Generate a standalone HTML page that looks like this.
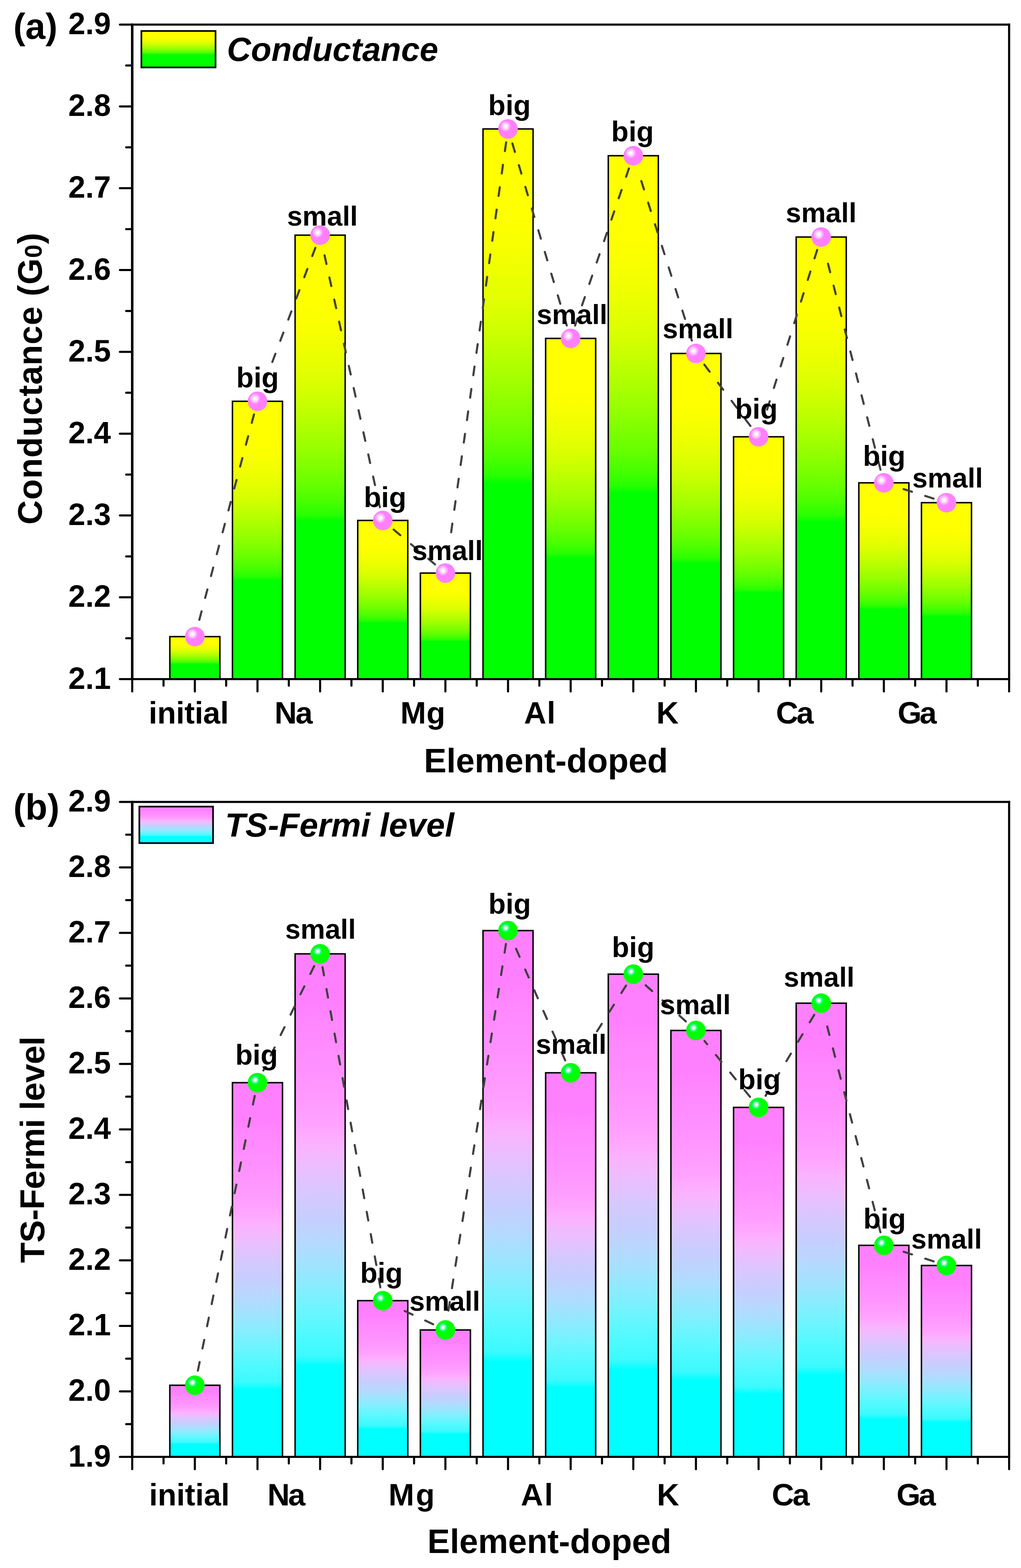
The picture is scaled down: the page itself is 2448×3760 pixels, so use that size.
<!DOCTYPE html>
<html><head><meta charset="utf-8"><title>Conductance and TS-Fermi level</title>
<style>html,body{margin:0;padding:0;background:#fff;}svg{display:block;}
text{font-family:'Liberation Sans', Arial, sans-serif;font-weight:bold;fill:#000;}</style></head>
<body>
<svg width="2448" height="3760" viewBox="0 0 2448 3760">
<rect width="2448" height="3760" fill="#fff"/>
<defs>
<linearGradient id="gA" x1="0" y1="0" x2="0" y2="1"><stop offset="0" stop-color="#ffff00"/><stop offset="0.15" stop-color="#ffff00"/><stop offset="0.19" stop-color="#fcff00"/><stop offset="0.26" stop-color="#eeff00"/><stop offset="0.33" stop-color="#dcff00"/><stop offset="0.38" stop-color="#c8ff00"/><stop offset="0.43" stop-color="#b0ff00"/><stop offset="0.48" stop-color="#98ff00"/><stop offset="0.52" stop-color="#80ff00"/><stop offset="0.56" stop-color="#68ff00"/><stop offset="0.6" stop-color="#48ff00"/><stop offset="0.63" stop-color="#28ff00"/><stop offset="0.645" stop-color="#00ff00"/><stop offset="1" stop-color="#00ff00"/></linearGradient>
<linearGradient id="gAL" x1="0" y1="0" x2="0" y2="1"><stop offset="0" stop-color="#ffff00"/><stop offset="0.15" stop-color="#ffff00"/><stop offset="0.19" stop-color="#fcff00"/><stop offset="0.26" stop-color="#eeff00"/><stop offset="0.33" stop-color="#dcff00"/><stop offset="0.38" stop-color="#c8ff00"/><stop offset="0.43" stop-color="#b0ff00"/><stop offset="0.48" stop-color="#98ff00"/><stop offset="0.52" stop-color="#80ff00"/><stop offset="0.56" stop-color="#68ff00"/><stop offset="0.6" stop-color="#48ff00"/><stop offset="0.63" stop-color="#28ff00"/><stop offset="0.645" stop-color="#00ff00"/><stop offset="1" stop-color="#00ff00"/></linearGradient>
<linearGradient id="gB" x1="0" y1="0" x2="0" y2="1"><stop offset="0" stop-color="#ff80ff"/><stop offset="0.1" stop-color="#ff80ff"/><stop offset="0.14" stop-color="#ff87ff"/><stop offset="0.23" stop-color="#ff91ff"/><stop offset="0.3" stop-color="#ff9bff"/><stop offset="0.345" stop-color="#ffa5ff"/><stop offset="0.385" stop-color="#fab4ff"/><stop offset="0.425" stop-color="#ebbeff"/><stop offset="0.475" stop-color="#d7c8ff"/><stop offset="0.52" stop-color="#c8cdff"/><stop offset="0.565" stop-color="#b9d7ff"/><stop offset="0.61" stop-color="#a5e1ff"/><stop offset="0.655" stop-color="#8cebff"/><stop offset="0.705" stop-color="#6ef5ff"/><stop offset="0.755" stop-color="#50faff"/><stop offset="0.8" stop-color="#3cfaff"/><stop offset="0.82" stop-color="#00ffff"/><stop offset="1" stop-color="#00ffff"/></linearGradient>
<linearGradient id="gBL" x1="0" y1="0" x2="0" y2="1"><stop offset="0" stop-color="#ff80ff"/><stop offset="0.1" stop-color="#ff80ff"/><stop offset="0.14" stop-color="#ff87ff"/><stop offset="0.23" stop-color="#ff91ff"/><stop offset="0.3" stop-color="#ff9bff"/><stop offset="0.345" stop-color="#ffa5ff"/><stop offset="0.385" stop-color="#fab4ff"/><stop offset="0.425" stop-color="#ebbeff"/><stop offset="0.475" stop-color="#d7c8ff"/><stop offset="0.52" stop-color="#c8cdff"/><stop offset="0.565" stop-color="#b9d7ff"/><stop offset="0.61" stop-color="#a5e1ff"/><stop offset="0.655" stop-color="#8cebff"/><stop offset="0.705" stop-color="#6ef5ff"/><stop offset="0.755" stop-color="#50faff"/><stop offset="0.8" stop-color="#3cfaff"/><stop offset="0.82" stop-color="#00ffff"/><stop offset="1" stop-color="#00ffff"/></linearGradient>
<g id="mP"><circle r="23.5" fill="#ff80ff"/><circle cx="-6" cy="-6.3" r="11.5" fill="#ffb0ff"/><circle cx="-6" cy="-6.3" r="7.5" fill="#ffe0ff"/><circle cx="-6" cy="-6.3" r="3.5" fill="#fff"/></g>
<g id="mG"><circle r="23.5" fill="#00ff00"/><circle cx="-6" cy="-6.5" r="11.3" fill="#00ff60"/><circle cx="-6" cy="-6.5" r="7.4" fill="#90ffb0"/><circle cx="-6" cy="-6.5" r="3.5" fill="#fff"/></g>
</defs>
<rect x="407.18" y="1526.60" width="120" height="101.90" fill="url(#gA)" stroke="#000" stroke-width="3.5"/>
<rect x="557.36" y="962.30" width="120" height="666.20" fill="url(#gA)" stroke="#000" stroke-width="3.5"/>
<rect x="707.54" y="563.90" width="120" height="1064.60" fill="url(#gA)" stroke="#000" stroke-width="3.5"/>
<rect x="857.72" y="1248.00" width="120" height="380.50" fill="url(#gA)" stroke="#000" stroke-width="3.5"/>
<rect x="1007.90" y="1374.20" width="120" height="254.30" fill="url(#gA)" stroke="#000" stroke-width="3.5"/>
<rect x="1158.08" y="309.20" width="120" height="1319.30" fill="url(#gA)" stroke="#000" stroke-width="3.5"/>
<rect x="1308.26" y="811.50" width="120" height="817.00" fill="url(#gA)" stroke="#000" stroke-width="3.5"/>
<rect x="1458.44" y="373.40" width="120" height="1255.10" fill="url(#gA)" stroke="#000" stroke-width="3.5"/>
<rect x="1608.62" y="847.60" width="120" height="780.90" fill="url(#gA)" stroke="#000" stroke-width="3.5"/>
<rect x="1758.80" y="1047.40" width="120" height="581.10" fill="url(#gA)" stroke="#000" stroke-width="3.5"/>
<rect x="1908.98" y="568.40" width="120" height="1060.10" fill="url(#gA)" stroke="#000" stroke-width="3.5"/>
<rect x="2059.16" y="1157.80" width="120" height="470.70" fill="url(#gA)" stroke="#000" stroke-width="3.5"/>
<rect x="2209.34" y="1205.40" width="120" height="423.10" fill="url(#gA)" stroke="#000" stroke-width="3.5"/>
<line x1="609.00" y1="993.71" x2="475.54" y2="1495.19" stroke="#404040" stroke-width="5" stroke-dasharray="21 33.3" stroke-linecap="round"/>
<line x1="756.08" y1="594.31" x2="628.82" y2="931.89" stroke="#404040" stroke-width="5" stroke-dasharray="21 33.3" stroke-linecap="round"/>
<line x1="910.75" y1="1216.26" x2="774.51" y2="595.64" stroke="#404040" stroke-width="5" stroke-dasharray="21 33.3" stroke-linecap="round"/>
<line x1="1043.02" y1="1353.29" x2="942.60" y2="1268.91" stroke="#404040" stroke-width="5" stroke-dasharray="21 33.3" stroke-linecap="round"/>
<line x1="1213.54" y1="341.38" x2="1072.44" y2="1342.02" stroke="#404040" stroke-width="5" stroke-dasharray="21 33.3" stroke-linecap="round"/>
<line x1="1358.95" y1="780.36" x2="1227.39" y2="340.34" stroke="#404040" stroke-width="5" stroke-dasharray="21 33.3" stroke-linecap="round"/>
<line x1="1507.90" y1="404.14" x2="1378.80" y2="780.76" stroke="#404040" stroke-width="5" stroke-dasharray="21 33.3" stroke-linecap="round"/>
<line x1="1658.81" y1="816.62" x2="1528.25" y2="404.38" stroke="#404040" stroke-width="5" stroke-dasharray="21 33.3" stroke-linecap="round"/>
<line x1="1799.27" y1="1021.42" x2="1688.15" y2="873.58" stroke="#404040" stroke-width="5" stroke-dasharray="21 33.3" stroke-linecap="round"/>
<line x1="1959.26" y1="599.41" x2="1829.90" y2="1012.01" stroke="#404040" stroke-width="5" stroke-dasharray="21 33.3" stroke-linecap="round"/>
<line x1="2111.14" y1="1126.31" x2="1977.56" y2="602.06" stroke="#404040" stroke-width="5" stroke-dasharray="21 33.3" stroke-linecap="round"/>
<line x1="2238.36" y1="1195.58" x2="2150.14" y2="1167.62" stroke="#404040" stroke-width="5" stroke-dasharray="21 33.3" stroke-linecap="round"/>
<use href="#mP" x="467.18" y="1526.60"/>
<use href="#mP" x="617.36" y="962.30"/>
<use href="#mP" x="767.54" y="563.90"/>
<use href="#mP" x="917.72" y="1248.00"/>
<use href="#mP" x="1067.90" y="1374.20"/>
<use href="#mP" x="1218.08" y="309.20"/>
<use href="#mP" x="1368.26" y="811.50"/>
<use href="#mP" x="1518.44" y="373.40"/>
<use href="#mP" x="1668.62" y="847.60"/>
<use href="#mP" x="1818.80" y="1047.40"/>
<use href="#mP" x="1968.98" y="568.40"/>
<use href="#mP" x="2119.16" y="1157.80"/>
<use href="#mP" x="2269.34" y="1205.40"/>
<text x="617.6" y="929.0" font-size="68" text-anchor="middle">big</text>
<text x="773.0" y="540.6" font-size="66.3" text-anchor="middle">small</text>
<text x="923.3" y="1216.3" font-size="68" text-anchor="middle">big</text>
<text x="1072.7" y="1343.0" font-size="66.3" text-anchor="middle">small</text>
<text x="1221.6" y="275.8" font-size="68" text-anchor="middle">big</text>
<text x="1371.5" y="776.8" font-size="66.3" text-anchor="middle">small</text>
<text x="1516.6" y="339.4" font-size="68" text-anchor="middle">big</text>
<text x="1673.5" y="811.3" font-size="66.3" text-anchor="middle">small</text>
<text x="1813.5" y="1004.2" font-size="68" text-anchor="middle">big</text>
<text x="1968.8" y="533.1" font-size="66.3" text-anchor="middle">small</text>
<text x="2120.0" y="1117.2" font-size="68" text-anchor="middle">big</text>
<text x="2272.0" y="1168.7" font-size="66.3" text-anchor="middle">small</text>
<line x1="317" y1="59.0" x2="2422.12" y2="59.0" stroke="#000" stroke-width="5"/>
<line x1="314" y1="1628.5" x2="2422.12" y2="1628.5" stroke="#000" stroke-width="5.2"/>
<line x1="317" y1="56.5" x2="317" y2="1628.5" stroke="#000" stroke-width="6"/>
<line x1="2419.52" y1="56.5" x2="2419.52" y2="1628.5" stroke="#000" stroke-width="5.2"/>
<line x1="317" y1="1628.50" x2="287.5" y2="1628.50" stroke="#000" stroke-width="5.0" stroke-linecap="round"/>
<text x="266" y="1651.50" font-size="73.5" text-anchor="end">2.1</text>
<line x1="317" y1="1530.41" x2="302.5" y2="1530.41" stroke="#000" stroke-width="5.0" stroke-linecap="round"/>
<line x1="317" y1="1432.31" x2="287.5" y2="1432.31" stroke="#000" stroke-width="5.0" stroke-linecap="round"/>
<text x="266" y="1455.31" font-size="73.5" text-anchor="end">2.2</text>
<line x1="317" y1="1334.22" x2="302.5" y2="1334.22" stroke="#000" stroke-width="5.0" stroke-linecap="round"/>
<line x1="317" y1="1236.12" x2="287.5" y2="1236.12" stroke="#000" stroke-width="5.0" stroke-linecap="round"/>
<text x="266" y="1259.12" font-size="73.5" text-anchor="end">2.3</text>
<line x1="317" y1="1138.03" x2="302.5" y2="1138.03" stroke="#000" stroke-width="5.0" stroke-linecap="round"/>
<line x1="317" y1="1039.94" x2="287.5" y2="1039.94" stroke="#000" stroke-width="5.0" stroke-linecap="round"/>
<text x="266" y="1062.94" font-size="73.5" text-anchor="end">2.4</text>
<line x1="317" y1="941.84" x2="302.5" y2="941.84" stroke="#000" stroke-width="5.0" stroke-linecap="round"/>
<line x1="317" y1="843.75" x2="287.5" y2="843.75" stroke="#000" stroke-width="5.0" stroke-linecap="round"/>
<text x="266" y="866.75" font-size="73.5" text-anchor="end">2.5</text>
<line x1="317" y1="745.66" x2="302.5" y2="745.66" stroke="#000" stroke-width="5.0" stroke-linecap="round"/>
<line x1="317" y1="647.56" x2="287.5" y2="647.56" stroke="#000" stroke-width="5.0" stroke-linecap="round"/>
<text x="266" y="670.56" font-size="73.5" text-anchor="end">2.6</text>
<line x1="317" y1="549.47" x2="302.5" y2="549.47" stroke="#000" stroke-width="5.0" stroke-linecap="round"/>
<line x1="317" y1="451.37" x2="287.5" y2="451.37" stroke="#000" stroke-width="5.0" stroke-linecap="round"/>
<text x="266" y="474.37" font-size="73.5" text-anchor="end">2.7</text>
<line x1="317" y1="353.28" x2="302.5" y2="353.28" stroke="#000" stroke-width="5.0" stroke-linecap="round"/>
<line x1="317" y1="255.19" x2="287.5" y2="255.19" stroke="#000" stroke-width="5.0" stroke-linecap="round"/>
<text x="266" y="278.19" font-size="73.5" text-anchor="end">2.8</text>
<line x1="317" y1="157.09" x2="302.5" y2="157.09" stroke="#000" stroke-width="5.0" stroke-linecap="round"/>
<line x1="317" y1="59.00" x2="287.5" y2="59.00" stroke="#000" stroke-width="5.0" stroke-linecap="round"/>
<text x="266" y="82.00" font-size="73.5" text-anchor="end">2.9</text>
<line x1="317.00" y1="1628.5" x2="317.00" y2="1658.0" stroke="#000" stroke-width="5.0" stroke-linecap="round"/>
<line x1="392.09" y1="1628.5" x2="392.09" y2="1644.3" stroke="#000" stroke-width="5.0" stroke-linecap="round"/>
<line x1="467.18" y1="1628.5" x2="467.18" y2="1658.0" stroke="#000" stroke-width="5.0" stroke-linecap="round"/>
<line x1="542.27" y1="1628.5" x2="542.27" y2="1644.3" stroke="#000" stroke-width="5.0" stroke-linecap="round"/>
<line x1="617.36" y1="1628.5" x2="617.36" y2="1658.0" stroke="#000" stroke-width="5.0" stroke-linecap="round"/>
<line x1="692.45" y1="1628.5" x2="692.45" y2="1644.3" stroke="#000" stroke-width="5.0" stroke-linecap="round"/>
<line x1="767.54" y1="1628.5" x2="767.54" y2="1658.0" stroke="#000" stroke-width="5.0" stroke-linecap="round"/>
<line x1="842.63" y1="1628.5" x2="842.63" y2="1644.3" stroke="#000" stroke-width="5.0" stroke-linecap="round"/>
<line x1="917.72" y1="1628.5" x2="917.72" y2="1658.0" stroke="#000" stroke-width="5.0" stroke-linecap="round"/>
<line x1="992.81" y1="1628.5" x2="992.81" y2="1644.3" stroke="#000" stroke-width="5.0" stroke-linecap="round"/>
<line x1="1067.90" y1="1628.5" x2="1067.90" y2="1658.0" stroke="#000" stroke-width="5.0" stroke-linecap="round"/>
<line x1="1142.99" y1="1628.5" x2="1142.99" y2="1644.3" stroke="#000" stroke-width="5.0" stroke-linecap="round"/>
<line x1="1218.08" y1="1628.5" x2="1218.08" y2="1658.0" stroke="#000" stroke-width="5.0" stroke-linecap="round"/>
<line x1="1293.17" y1="1628.5" x2="1293.17" y2="1644.3" stroke="#000" stroke-width="5.0" stroke-linecap="round"/>
<line x1="1368.26" y1="1628.5" x2="1368.26" y2="1658.0" stroke="#000" stroke-width="5.0" stroke-linecap="round"/>
<line x1="1443.35" y1="1628.5" x2="1443.35" y2="1644.3" stroke="#000" stroke-width="5.0" stroke-linecap="round"/>
<line x1="1518.44" y1="1628.5" x2="1518.44" y2="1658.0" stroke="#000" stroke-width="5.0" stroke-linecap="round"/>
<line x1="1593.53" y1="1628.5" x2="1593.53" y2="1644.3" stroke="#000" stroke-width="5.0" stroke-linecap="round"/>
<line x1="1668.62" y1="1628.5" x2="1668.62" y2="1658.0" stroke="#000" stroke-width="5.0" stroke-linecap="round"/>
<line x1="1743.71" y1="1628.5" x2="1743.71" y2="1644.3" stroke="#000" stroke-width="5.0" stroke-linecap="round"/>
<line x1="1818.80" y1="1628.5" x2="1818.80" y2="1658.0" stroke="#000" stroke-width="5.0" stroke-linecap="round"/>
<line x1="1893.89" y1="1628.5" x2="1893.89" y2="1644.3" stroke="#000" stroke-width="5.0" stroke-linecap="round"/>
<line x1="1968.98" y1="1628.5" x2="1968.98" y2="1658.0" stroke="#000" stroke-width="5.0" stroke-linecap="round"/>
<line x1="2044.07" y1="1628.5" x2="2044.07" y2="1644.3" stroke="#000" stroke-width="5.0" stroke-linecap="round"/>
<line x1="2119.16" y1="1628.5" x2="2119.16" y2="1658.0" stroke="#000" stroke-width="5.0" stroke-linecap="round"/>
<line x1="2194.25" y1="1628.5" x2="2194.25" y2="1644.3" stroke="#000" stroke-width="5.0" stroke-linecap="round"/>
<line x1="2269.34" y1="1628.5" x2="2269.34" y2="1658.0" stroke="#000" stroke-width="5.0" stroke-linecap="round"/>
<line x1="2344.43" y1="1628.5" x2="2344.43" y2="1644.3" stroke="#000" stroke-width="5.0" stroke-linecap="round"/>
<line x1="2419.52" y1="1628.5" x2="2419.52" y2="1658.0" stroke="#000" stroke-width="5.0" stroke-linecap="round"/>
<text x="356.5" y="1734.5" font-size="74" letter-spacing="-0.18">initial</text>
<text x="658.3" y="1734.5" font-size="74" letter-spacing="-3.24">Na</text>
<text x="960.0" y="1734.5" font-size="74" letter-spacing="0.90">Mg</text>
<text x="1256.6" y="1734.5" font-size="74" letter-spacing="1.10">Al</text>
<text x="1573.8" y="1734.5" font-size="74" letter-spacing="0.00">K</text>
<text x="1860.5" y="1734.5" font-size="74" letter-spacing="-4.16">Ca</text>
<text x="2152.3" y="1734.5" font-size="74" letter-spacing="-5.00">Ga</text>
<text x="1016.5" y="1852.2" font-size="81">Element-doped</text>
<text transform="translate(99.5,1258) rotate(-90)" font-size="81" letter-spacing="1">Conductance (G<tspan font-size="58" dy="0.5">0</tspan><tspan dy="-0.5">)</tspan></text>
<rect x="339" y="74.3" width="177.8" height="87.4" fill="url(#gAL)" stroke="#000" stroke-width="4"/>
<text x="544" y="145.6" font-size="80" font-style="italic">Conductance</text>
<text x="32" y="92.9" font-size="86.5">(a)</text>
<rect x="407.18" y="3321.80" width="120" height="171.70" fill="url(#gB)" stroke="#000" stroke-width="3.5"/>
<rect x="557.36" y="2596.20" width="120" height="897.30" fill="url(#gB)" stroke="#000" stroke-width="3.5"/>
<rect x="707.54" y="2287.30" width="120" height="1206.20" fill="url(#gB)" stroke="#000" stroke-width="3.5"/>
<rect x="857.72" y="3118.90" width="120" height="374.60" fill="url(#gB)" stroke="#000" stroke-width="3.5"/>
<rect x="1007.90" y="3189.20" width="120" height="304.30" fill="url(#gB)" stroke="#000" stroke-width="3.5"/>
<rect x="1158.08" y="2231.50" width="120" height="1262.00" fill="url(#gB)" stroke="#000" stroke-width="3.5"/>
<rect x="1308.26" y="2572.50" width="120" height="921.00" fill="url(#gB)" stroke="#000" stroke-width="3.5"/>
<rect x="1458.44" y="2336.00" width="120" height="1157.50" fill="url(#gB)" stroke="#000" stroke-width="3.5"/>
<rect x="1608.62" y="2471.00" width="120" height="1022.50" fill="url(#gB)" stroke="#000" stroke-width="3.5"/>
<rect x="1758.80" y="2655.50" width="120" height="838.00" fill="url(#gB)" stroke="#000" stroke-width="3.5"/>
<rect x="1908.98" y="2405.60" width="120" height="1087.90" fill="url(#gB)" stroke="#000" stroke-width="3.5"/>
<rect x="2059.16" y="2986.30" width="120" height="507.20" fill="url(#gB)" stroke="#000" stroke-width="3.5"/>
<rect x="2209.34" y="3034.60" width="120" height="458.90" fill="url(#gB)" stroke="#000" stroke-width="3.5"/>
<line x1="610.77" y1="2628.03" x2="473.77" y2="3289.97" stroke="#404040" stroke-width="5" stroke-dasharray="21 33.3" stroke-linecap="round"/>
<line x1="753.33" y1="2316.53" x2="631.57" y2="2566.97" stroke="#404040" stroke-width="5" stroke-dasharray="21 33.3" stroke-linecap="round"/>
<line x1="911.94" y1="3086.92" x2="773.32" y2="2319.28" stroke="#404040" stroke-width="5" stroke-dasharray="21 33.3" stroke-linecap="round"/>
<line x1="1038.47" y1="3175.42" x2="947.15" y2="3132.68" stroke="#404040" stroke-width="5" stroke-dasharray="21 33.3" stroke-linecap="round"/>
<line x1="1213.05" y1="2263.61" x2="1072.93" y2="3157.09" stroke="#404040" stroke-width="5" stroke-dasharray="21 33.3" stroke-linecap="round"/>
<line x1="1355.16" y1="2542.76" x2="1231.18" y2="2261.24" stroke="#404040" stroke-width="5" stroke-dasharray="21 33.3" stroke-linecap="round"/>
<line x1="1501.02" y1="2363.44" x2="1385.68" y2="2545.06" stroke="#404040" stroke-width="5" stroke-dasharray="21 33.3" stroke-linecap="round"/>
<line x1="1644.45" y1="2449.27" x2="1542.61" y2="2357.73" stroke="#404040" stroke-width="5" stroke-dasharray="21 33.3" stroke-linecap="round"/>
<line x1="1798.28" y1="2630.29" x2="1689.14" y2="2496.21" stroke="#404040" stroke-width="5" stroke-dasharray="21 33.3" stroke-linecap="round"/>
<line x1="1952.24" y1="2433.46" x2="1835.54" y2="2627.64" stroke="#404040" stroke-width="5" stroke-dasharray="21 33.3" stroke-linecap="round"/>
<line x1="2111.02" y1="2954.84" x2="1977.12" y2="2437.06" stroke="#404040" stroke-width="5" stroke-dasharray="21 33.3" stroke-linecap="round"/>
<line x1="2238.40" y1="3024.65" x2="2150.10" y2="2996.25" stroke="#404040" stroke-width="5" stroke-dasharray="21 33.3" stroke-linecap="round"/>
<use href="#mG" x="467.18" y="3321.80"/>
<use href="#mG" x="617.36" y="2596.20"/>
<use href="#mG" x="767.54" y="2287.30"/>
<use href="#mG" x="917.72" y="3118.90"/>
<use href="#mG" x="1067.90" y="3189.20"/>
<use href="#mG" x="1218.08" y="2231.50"/>
<use href="#mG" x="1368.26" y="2572.50"/>
<use href="#mG" x="1518.44" y="2336.00"/>
<use href="#mG" x="1668.62" y="2471.00"/>
<use href="#mG" x="1818.80" y="2655.50"/>
<use href="#mG" x="1968.98" y="2405.60"/>
<use href="#mG" x="2119.16" y="2986.30"/>
<use href="#mG" x="2269.34" y="3034.60"/>
<text x="615.2" y="2553.1" font-size="68" text-anchor="middle">big</text>
<text x="768.4" y="2251.2" font-size="66.3" text-anchor="middle">small</text>
<text x="914.6" y="3075.6" font-size="68" text-anchor="middle">big</text>
<text x="1066.5" y="3143.1" font-size="66.3" text-anchor="middle">small</text>
<text x="1222.0" y="2191.0" font-size="68" text-anchor="middle">big</text>
<text x="1369.5" y="2527.3" font-size="66.3" text-anchor="middle">small</text>
<text x="1518.0" y="2294.7" font-size="68" text-anchor="middle">big</text>
<text x="1667.1" y="2432.0" font-size="66.3" text-anchor="middle">small</text>
<text x="1820.9" y="2611.6" font-size="68" text-anchor="middle">big</text>
<text x="1964.0" y="2365.8" font-size="66.3" text-anchor="middle">small</text>
<text x="2121.0" y="2945.8" font-size="68" text-anchor="middle">big</text>
<text x="2269.6" y="2993.5" font-size="66.3" text-anchor="middle">small</text>
<line x1="317" y1="1923.0" x2="2422.12" y2="1923.0" stroke="#000" stroke-width="5"/>
<line x1="314" y1="3493.5" x2="2422.12" y2="3493.5" stroke="#000" stroke-width="5.2"/>
<line x1="317" y1="1920.5" x2="317" y2="3493.5" stroke="#000" stroke-width="6"/>
<line x1="2419.52" y1="1920.5" x2="2419.52" y2="3493.5" stroke="#000" stroke-width="5.2"/>
<line x1="317" y1="3493.50" x2="287.5" y2="3493.50" stroke="#000" stroke-width="5.0" stroke-linecap="round"/>
<text x="266" y="3516.50" font-size="73.5" text-anchor="end">1.9</text>
<line x1="317" y1="3414.97" x2="302.5" y2="3414.97" stroke="#000" stroke-width="5.0" stroke-linecap="round"/>
<line x1="317" y1="3336.45" x2="287.5" y2="3336.45" stroke="#000" stroke-width="5.0" stroke-linecap="round"/>
<text x="266" y="3359.45" font-size="73.5" text-anchor="end">2.0</text>
<line x1="317" y1="3257.93" x2="302.5" y2="3257.93" stroke="#000" stroke-width="5.0" stroke-linecap="round"/>
<line x1="317" y1="3179.40" x2="287.5" y2="3179.40" stroke="#000" stroke-width="5.0" stroke-linecap="round"/>
<text x="266" y="3202.40" font-size="73.5" text-anchor="end">2.1</text>
<line x1="317" y1="3100.88" x2="302.5" y2="3100.88" stroke="#000" stroke-width="5.0" stroke-linecap="round"/>
<line x1="317" y1="3022.35" x2="287.5" y2="3022.35" stroke="#000" stroke-width="5.0" stroke-linecap="round"/>
<text x="266" y="3045.35" font-size="73.5" text-anchor="end">2.2</text>
<line x1="317" y1="2943.82" x2="302.5" y2="2943.82" stroke="#000" stroke-width="5.0" stroke-linecap="round"/>
<line x1="317" y1="2865.30" x2="287.5" y2="2865.30" stroke="#000" stroke-width="5.0" stroke-linecap="round"/>
<text x="266" y="2888.30" font-size="73.5" text-anchor="end">2.3</text>
<line x1="317" y1="2786.78" x2="302.5" y2="2786.78" stroke="#000" stroke-width="5.0" stroke-linecap="round"/>
<line x1="317" y1="2708.25" x2="287.5" y2="2708.25" stroke="#000" stroke-width="5.0" stroke-linecap="round"/>
<text x="266" y="2731.25" font-size="73.5" text-anchor="end">2.4</text>
<line x1="317" y1="2629.73" x2="302.5" y2="2629.73" stroke="#000" stroke-width="5.0" stroke-linecap="round"/>
<line x1="317" y1="2551.20" x2="287.5" y2="2551.20" stroke="#000" stroke-width="5.0" stroke-linecap="round"/>
<text x="266" y="2574.20" font-size="73.5" text-anchor="end">2.5</text>
<line x1="317" y1="2472.68" x2="302.5" y2="2472.68" stroke="#000" stroke-width="5.0" stroke-linecap="round"/>
<line x1="317" y1="2394.15" x2="287.5" y2="2394.15" stroke="#000" stroke-width="5.0" stroke-linecap="round"/>
<text x="266" y="2417.15" font-size="73.5" text-anchor="end">2.6</text>
<line x1="317" y1="2315.62" x2="302.5" y2="2315.62" stroke="#000" stroke-width="5.0" stroke-linecap="round"/>
<line x1="317" y1="2237.10" x2="287.5" y2="2237.10" stroke="#000" stroke-width="5.0" stroke-linecap="round"/>
<text x="266" y="2260.10" font-size="73.5" text-anchor="end">2.7</text>
<line x1="317" y1="2158.57" x2="302.5" y2="2158.57" stroke="#000" stroke-width="5.0" stroke-linecap="round"/>
<line x1="317" y1="2080.05" x2="287.5" y2="2080.05" stroke="#000" stroke-width="5.0" stroke-linecap="round"/>
<text x="266" y="2103.05" font-size="73.5" text-anchor="end">2.8</text>
<line x1="317" y1="2001.53" x2="302.5" y2="2001.53" stroke="#000" stroke-width="5.0" stroke-linecap="round"/>
<line x1="317" y1="1923.00" x2="287.5" y2="1923.00" stroke="#000" stroke-width="5.0" stroke-linecap="round"/>
<text x="266" y="1946.00" font-size="73.5" text-anchor="end">2.9</text>
<line x1="317.00" y1="3493.5" x2="317.00" y2="3523.0" stroke="#000" stroke-width="5.0" stroke-linecap="round"/>
<line x1="392.09" y1="3493.5" x2="392.09" y2="3509.3" stroke="#000" stroke-width="5.0" stroke-linecap="round"/>
<line x1="467.18" y1="3493.5" x2="467.18" y2="3523.0" stroke="#000" stroke-width="5.0" stroke-linecap="round"/>
<line x1="542.27" y1="3493.5" x2="542.27" y2="3509.3" stroke="#000" stroke-width="5.0" stroke-linecap="round"/>
<line x1="617.36" y1="3493.5" x2="617.36" y2="3523.0" stroke="#000" stroke-width="5.0" stroke-linecap="round"/>
<line x1="692.45" y1="3493.5" x2="692.45" y2="3509.3" stroke="#000" stroke-width="5.0" stroke-linecap="round"/>
<line x1="767.54" y1="3493.5" x2="767.54" y2="3523.0" stroke="#000" stroke-width="5.0" stroke-linecap="round"/>
<line x1="842.63" y1="3493.5" x2="842.63" y2="3509.3" stroke="#000" stroke-width="5.0" stroke-linecap="round"/>
<line x1="917.72" y1="3493.5" x2="917.72" y2="3523.0" stroke="#000" stroke-width="5.0" stroke-linecap="round"/>
<line x1="992.81" y1="3493.5" x2="992.81" y2="3509.3" stroke="#000" stroke-width="5.0" stroke-linecap="round"/>
<line x1="1067.90" y1="3493.5" x2="1067.90" y2="3523.0" stroke="#000" stroke-width="5.0" stroke-linecap="round"/>
<line x1="1142.99" y1="3493.5" x2="1142.99" y2="3509.3" stroke="#000" stroke-width="5.0" stroke-linecap="round"/>
<line x1="1218.08" y1="3493.5" x2="1218.08" y2="3523.0" stroke="#000" stroke-width="5.0" stroke-linecap="round"/>
<line x1="1293.17" y1="3493.5" x2="1293.17" y2="3509.3" stroke="#000" stroke-width="5.0" stroke-linecap="round"/>
<line x1="1368.26" y1="3493.5" x2="1368.26" y2="3523.0" stroke="#000" stroke-width="5.0" stroke-linecap="round"/>
<line x1="1443.35" y1="3493.5" x2="1443.35" y2="3509.3" stroke="#000" stroke-width="5.0" stroke-linecap="round"/>
<line x1="1518.44" y1="3493.5" x2="1518.44" y2="3523.0" stroke="#000" stroke-width="5.0" stroke-linecap="round"/>
<line x1="1593.53" y1="3493.5" x2="1593.53" y2="3509.3" stroke="#000" stroke-width="5.0" stroke-linecap="round"/>
<line x1="1668.62" y1="3493.5" x2="1668.62" y2="3523.0" stroke="#000" stroke-width="5.0" stroke-linecap="round"/>
<line x1="1743.71" y1="3493.5" x2="1743.71" y2="3509.3" stroke="#000" stroke-width="5.0" stroke-linecap="round"/>
<line x1="1818.80" y1="3493.5" x2="1818.80" y2="3523.0" stroke="#000" stroke-width="5.0" stroke-linecap="round"/>
<line x1="1893.89" y1="3493.5" x2="1893.89" y2="3509.3" stroke="#000" stroke-width="5.0" stroke-linecap="round"/>
<line x1="1968.98" y1="3493.5" x2="1968.98" y2="3523.0" stroke="#000" stroke-width="5.0" stroke-linecap="round"/>
<line x1="2044.07" y1="3493.5" x2="2044.07" y2="3509.3" stroke="#000" stroke-width="5.0" stroke-linecap="round"/>
<line x1="2119.16" y1="3493.5" x2="2119.16" y2="3523.0" stroke="#000" stroke-width="5.0" stroke-linecap="round"/>
<line x1="2194.25" y1="3493.5" x2="2194.25" y2="3509.3" stroke="#000" stroke-width="5.0" stroke-linecap="round"/>
<line x1="2269.34" y1="3493.5" x2="2269.34" y2="3523.0" stroke="#000" stroke-width="5.0" stroke-linecap="round"/>
<line x1="2344.43" y1="3493.5" x2="2344.43" y2="3509.3" stroke="#000" stroke-width="5.0" stroke-linecap="round"/>
<line x1="2419.52" y1="3493.5" x2="2419.52" y2="3523.0" stroke="#000" stroke-width="5.0" stroke-linecap="round"/>
<text x="357.4" y="3609.5" font-size="74" letter-spacing="-0.03">initial</text>
<text x="641.3" y="3609.5" font-size="74" letter-spacing="-3.74">Na</text>
<text x="931.6" y="3609.5" font-size="74" letter-spacing="3.80">Mg</text>
<text x="1248.8" y="3609.5" font-size="74" letter-spacing="3.00">Al</text>
<text x="1575.1" y="3609.5" font-size="74" letter-spacing="0.00">K</text>
<text x="1850.6" y="3609.5" font-size="74" letter-spacing="-3.66">Ca</text>
<text x="2149.6" y="3609.5" font-size="74" letter-spacing="-4.50">Ga</text>
<text x="1024.7" y="3723.8" font-size="81">Element-doped</text>
<text transform="translate(106,3028.5) rotate(-90)" font-size="81" letter-spacing="-0.8">TS-Fermi level</text>
<rect x="334.1" y="1934.2" width="176.7" height="87.5" fill="url(#gBL)" stroke="#000" stroke-width="4"/>
<text x="539.5" y="2005.6" font-size="80.4" font-style="italic">TS-Fermi level</text>
<text x="32" y="1965" font-size="86.5">(b)</text>
</svg>
</body></html>
